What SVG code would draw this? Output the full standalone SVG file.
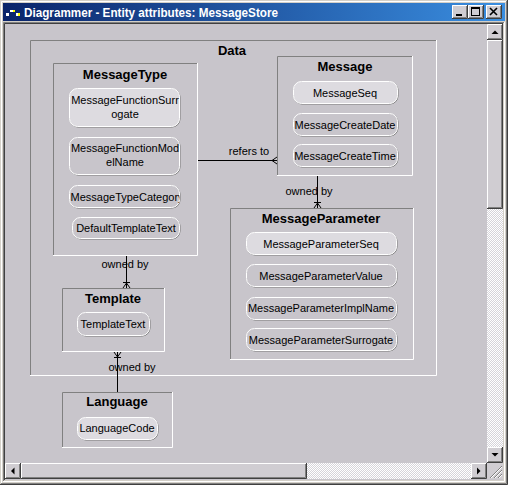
<svg xmlns="http://www.w3.org/2000/svg" width="508" height="485" viewBox="0 0 508 485">
<defs>
<linearGradient id="tb" x1="0" x2="1" y1="0" y2="0"><stop offset="0" stop-color="#0a246a"/><stop offset="1" stop-color="#3a8ee0"/></linearGradient>
<pattern id="track" width="2" height="2" patternUnits="userSpaceOnUse"><rect width="2" height="2" fill="#d6d4da"/><rect width="1" height="1" fill="#ffffff"/><rect x="1" y="1" width="1" height="1" fill="#ffffff"/></pattern>
<clipPath id="clipCat"><rect x="70" y="186" width="109.5" height="22" rx="8"/></clipPath>
<style>
.bg{fill:#c8c5cb}
.dk{stroke:#808080;fill:none}
.lt{stroke:#ffffff;fill:none}
.bk{stroke:#404040;fill:none}
.title{font-family:"Liberation Sans",Arial,sans-serif;font-size:13px;font-weight:bold;fill:#000;text-anchor:middle}
.attr{font-family:"Liberation Sans",Arial,sans-serif;font-size:11px;fill:#000;text-anchor:middle}
.lbl{font-family:"Liberation Sans",Arial,sans-serif;font-size:11px;fill:#000;text-anchor:middle}
.psh{fill:none;stroke:#787878}
.pill{fill:#c8c5cb;stroke:#ffffff}
.key{fill:#dddbe0}
.conn{stroke:#000;fill:none;stroke-width:1}
.btn{fill:#d0cdd2}
.glyph{fill:#000}
</style>
</defs>

<!-- window frame -->
<rect x="0" y="0" width="508" height="485" fill="#d4d0c8"/>
<path d="M0.5 484 V0.5 H507" stroke="#d4d0c8" fill="none"/>
<path d="M1.5 483 V1.5 H506" class="lt"/>
<path d="M507.5 0 V484.5 H0" class="bk"/>
<path d="M506.5 1 V483.5 H1" class="dk"/>

<!-- title bar -->
<rect x="3" y="3" width="502" height="18" fill="url(#tb)"/>
<g id="icon">
<rect x="6" y="13" width="3" height="3" fill="#ffffff"/>
<rect x="10" y="10" width="3" height="2" fill="#ffffff"/>
<rect x="13" y="10" width="2" height="2" fill="#ffff00"/>
<rect x="16" y="13" width="2" height="3" fill="#ffffff"/>
<rect x="18" y="13" width="2" height="3" fill="#ffff00"/>
</g>
<text x="24" y="16.5" font-family="'Liberation Sans',Arial,sans-serif" font-size="12" font-weight="bold" fill="#ffffff" textLength="254" lengthAdjust="spacingAndGlyphs">Diagrammer - Entity attributes: MessageStore</text>

<!-- title buttons -->
<g id="btn-min">
<rect x="452" y="5" width="16" height="14" class="btn"/>
<path d="M452.5 18 V5.5 H467" class="lt"/><path d="M467.5 5 V18.5 H452" class="bk"/><path d="M466.5 6 V17.5 H453" class="dk"/>
<rect x="456" y="14" width="6" height="2" class="glyph"/>
</g>
<g id="btn-max">
<rect x="468" y="5" width="16" height="14" class="btn"/>
<path d="M468.5 18 V5.5 H483" class="lt"/><path d="M483.5 5 V18.5 H468" class="bk"/><path d="M482.5 6 V17.5 H469" class="dk"/>
<rect x="471.5" y="7.5" width="8" height="8" fill="none" stroke="#000"/><rect x="471" y="7" width="9" height="2" class="glyph"/>
</g>
<g id="btn-close">
<rect x="486" y="5" width="16" height="14" class="btn"/>
<path d="M486.5 18 V5.5 H501" class="lt"/><path d="M501.5 5 V18.5 H486" class="bk"/><path d="M500.5 6 V17.5 H487" class="dk"/>
<path d="M490 8 L497 15 M497 8 L490 15" stroke="#000" stroke-width="1.6"/>
</g>

<!-- client area -->
<rect x="4" y="23" width="499" height="457" class="bg"/>
<path d="M3.5 481 V22.5 H504" class="dk"/>
<path d="M4.5 480 V23.5 H503" class="bk"/>
<path d="M504.5 22 V481.5 H3" class="lt"/>

<!-- vertical scrollbar -->
<g id="vscroll">
<rect x="487" y="24" width="16" height="16" class="btn"/>
<path d="M487.5 39 V24.5 H502" class="lt"/><path d="M502.5 24 V39.5 H487" class="bk"/><path d="M501.5 25 V38.5 H488" class="dk"/>
<polygon points="491.5,34 498.5,34 495,30.5" class="glyph"/>
<rect x="487" y="40" width="16" height="169" class="btn"/>
<path d="M487.5 208 V40.5 H502" class="lt"/><path d="M502.5 40 V208.5 H487" class="bk"/><path d="M501.5 41 V207.5 H488" class="dk"/>
<rect x="487" y="209" width="16" height="238" fill="url(#track)"/>
<rect x="487" y="447" width="16" height="16" class="btn"/>
<path d="M487.5 462 V447.5 H502" class="lt"/><path d="M502.5 447 V462.5 H487" class="bk"/><path d="M501.5 448 V461.5 H488" class="dk"/>
<polygon points="491.5,453 498.5,453 495,456.5" class="glyph"/>
</g>

<!-- horizontal scrollbar -->
<g id="hscroll">
<rect x="5" y="463" width="16" height="16" class="btn"/>
<path d="M5.5 478 V463.5 H20" class="lt"/><path d="M20.5 463 V478.5 H5" class="bk"/><path d="M19.5 464 V477.5 H6" class="dk"/>
<polygon points="14.5,467.5 14.5,474.5 11,471" class="glyph"/>
<rect x="21" y="463" width="286" height="16" class="btn"/>
<path d="M21.5 478 V463.5 H306" class="lt"/><path d="M306.5 463 V478.5 H21" class="bk"/><path d="M305.5 464 V477.5 H22" class="dk"/>
<rect x="307" y="463" width="164" height="16" fill="url(#track)"/>
<rect x="471" y="463" width="16" height="16" class="btn"/>
<path d="M471.5 478 V463.5 H486" class="lt"/><path d="M486.5 463 V478.5 H471" class="bk"/><path d="M485.5 464 V477.5 H472" class="dk"/>
<polygon points="477,467.5 477,474.5 480.5,471" class="glyph"/>
<rect x="487" y="463" width="16" height="16" class="btn"/>
<path d="M490 478 L502 466 M494 478 L502 470 M498 478 L502 474" stroke="#808080"/>
<path d="M491 478 L502 467 M495 478 L502 471 M499 478 L502 475" stroke="#ffffff"/>
</g>

<!-- Data container -->
<g id="data">
<path d="M30.5 375 V40.5 H436" class="dk"/>
<path d="M436.5 40 V375.5 H30" class="lt"/>
<text x="232" y="55" class="title">Data</text>
</g>

<!-- connectors -->
<g id="connectors">
<path d="M197 160.5 H277" class="conn"/>
<path d="M272 160.5 L277 157 M272 160.5 L277 164" class="conn"/>
<text x="249" y="155" class="lbl">refers to</text>

<path d="M317.5 175 V208" class="conn"/>
<path d="M317.5 203 L314 208 M317.5 203 L321 208 M314 202.5 H321" class="conn"/>
<text x="309" y="195" class="lbl">owned by</text>

<path d="M126.5 255 V288" class="conn"/>
<path d="M126.5 283 L123 288 M126.5 283 L130 288 M123 282.5 H130" class="conn"/>
<text x="125" y="268" class="lbl">owned by</text>

<path d="M117.5 351 V392" class="conn"/>
<path d="M117.5 357 L114 352 M117.5 357 L121 352 M114 357.5 H121" class="conn"/>
<text x="132" y="371" class="lbl">owned by</text>
</g>

<!-- MessageType -->
<g id="MessageType">
<path d="M53.5 255 V63.5 H197" class="dk"/>
<path d="M197.5 63 V255.5 H53" class="lt"/>
<text x="125" y="79" class="title">MessageType</text>
<rect x="70" y="89" width="110" height="38" rx="8" class="psh"/>
<rect x="69.5" y="88.5" width="110" height="38" rx="8" class="pill key"/>
<text x="125" y="104" class="attr">MessageFunctionSurr</text>
<text x="125" y="118" class="attr">ogate</text>
<rect x="70" y="138" width="110" height="37" rx="8" class="psh"/>
<rect x="69.5" y="137.5" width="110" height="37" rx="8" class="pill"/>
<text x="125" y="152" class="attr">MessageFunctionMod</text>
<text x="125" y="166" class="attr">elName</text>
<rect x="70" y="186" width="110" height="22" rx="8" class="psh"/>
<rect x="69.5" y="185.5" width="110" height="22" rx="8" class="pill"/>
<text x="70.5" y="201" class="attr" style="text-anchor:start" clip-path="url(#clipCat)">MessageTypeCategory</text>
<rect x="73" y="218" width="107" height="21" rx="8" class="psh"/>
<rect x="72.5" y="217.5" width="107" height="21" rx="8" class="pill"/>
<text x="126" y="232" class="attr">DefaultTemplateText</text>
</g>

<!-- Message -->
<g id="Message">
<path d="M277.5 175 V56.5 H412" class="dk"/>
<path d="M412.5 56 V175.5 H277" class="lt"/>
<text x="345" y="71" class="title">Message</text>
<rect x="294" y="82" width="104" height="22" rx="8" class="psh"/>
<rect x="293.5" y="81.5" width="104" height="22" rx="8" class="pill key"/>
<text x="345" y="97" class="attr">MessageSeq</text>
<rect x="294" y="114" width="104" height="22" rx="8" class="psh"/>
<rect x="293.5" y="113.5" width="104" height="22" rx="8" class="pill"/>
<text x="345" y="129" class="attr">MessageCreateDate</text>
<rect x="294" y="145" width="104" height="22" rx="8" class="psh"/>
<rect x="293.5" y="144.5" width="104" height="22" rx="8" class="pill"/>
<text x="345" y="160" class="attr">MessageCreateTime</text>
</g>

<!-- MessageParameter -->
<g id="MessageParameter">
<path d="M230.5 359 V208.5 H413" class="dk"/>
<path d="M413.5 208 V359.5 H230" class="lt"/>
<text x="321" y="223" class="title">MessageParameter</text>
<rect x="247" y="233" width="150" height="22" rx="8" class="psh"/>
<rect x="246.5" y="232.5" width="150" height="22" rx="8" class="pill key"/>
<text x="321" y="248" class="attr">MessageParameterSeq</text>
<rect x="247" y="265" width="150" height="22" rx="8" class="psh"/>
<rect x="246.5" y="264.5" width="150" height="22" rx="8" class="pill"/>
<text x="321" y="280" class="attr">MessageParameterValue</text>
<rect x="247" y="298" width="150" height="22" rx="8" class="psh"/>
<rect x="246.5" y="297.5" width="150" height="22" rx="8" class="pill"/>
<text x="321" y="312" class="attr">MessageParameterImplName</text>
<rect x="247" y="329" width="150" height="22" rx="8" class="psh"/>
<rect x="246.5" y="328.5" width="150" height="22" rx="8" class="pill"/>
<text x="321" y="344" class="attr">MessageParameterSurrogate</text>
</g>

<!-- Template -->
<g id="Template">
<path d="M62.5 351 V288.5 H164" class="dk"/>
<path d="M164.5 288 V351.5 H62" class="lt"/>
<text x="113" y="303" class="title">Template</text>
<rect x="78" y="313" width="72" height="23" rx="8" class="psh"/>
<rect x="77.5" y="312.5" width="72" height="23" rx="8" class="pill"/>
<text x="113" y="328" class="attr">TemplateText</text>
</g>

<!-- Language -->
<g id="Language">
<path d="M62.5 447 V392.5 H172" class="dk"/>
<path d="M172.5 392 V447.5 H62" class="lt"/>
<text x="117" y="406" class="title">Language</text>
<rect x="78" y="418" width="80" height="22" rx="8" class="psh"/>
<rect x="77.5" y="417.5" width="80" height="22" rx="8" class="pill key"/>
<text x="117" y="432" class="attr">LanguageCode</text>
</g>
</svg>
